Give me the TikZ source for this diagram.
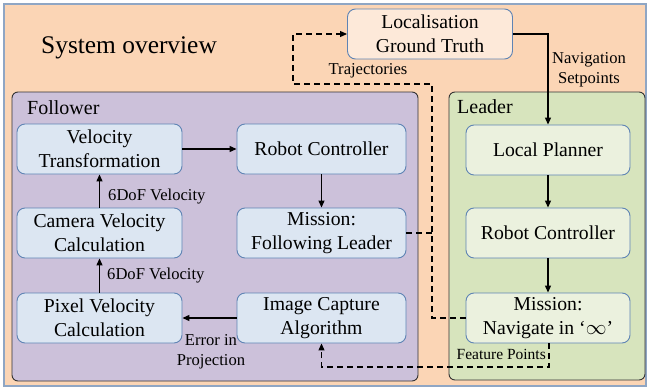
\documentclass[tikz,border=0pt]{standalone}
\usepackage{fontspec}
\setmainfont{Liberation Serif}
\usetikzlibrary{arrows.meta}

\definecolor{bgpeach}{HTML}{FBD5B5}
\definecolor{bgedge}{HTML}{8FA6C4}
\definecolor{follfill}{HTML}{CCC1DA}
\definecolor{leadfill}{HTML}{D7E4BD}
\definecolor{fboxfill}{HTML}{DCE6F2}
\definecolor{lboxfill}{HTML}{EBF1DE}
\definecolor{gtfill}{HTML}{FDE9D9}
\definecolor{boxedge}{HTML}{5F84B4}

\tikzset{
  blk/.style={draw=boxedge, line width=0.9pt, rounded corners=8pt,
    minimum width=165pt, minimum height=50pt, align=center,
    inner sep=0pt, font=\fontsize{19.7}{23.5}\selectfont},
  fblk/.style={blk, fill=fboxfill},
  lblk/.style={blk, fill=lboxfill},
  gblk/.style={blk, fill=gtfill},
  group/.style={draw=black!80, line width=0.9pt, rounded corners=6pt},
  lbl/.style={font=\fontsize{16.6}{19.5}\selectfont, align=center, inner sep=0pt},
  head/.style={font=\fontsize{20}{24}\selectfont, inner sep=0pt, anchor=west},
  arr/.style={line width=1.2pt, -{Triangle[length=7pt,width=6pt]}},
  darr/.style={line width=1.1pt, dash pattern=on 6pt off 4pt, -{Triangle[length=7pt,width=6pt]}},
  dline/.style={line width=1.1pt, dash pattern=on 6pt off 4pt},
}

\begin{document}
\begin{tikzpicture}[x=1pt, y=-1pt]
  \useasboundingbox (0,0) rectangle (649,391);

  % overall frame
  \draw[fill=bgpeach, draw=bgedge, line width=1.2pt] (4,4) rectangle (646,386);
  \node[anchor=west, inner sep=0pt, font=\fontsize{25.4}{30}\selectfont] (title) at (41,48) {System overview};

  % group panels
  \draw[group, fill=follfill] (12,92) rectangle (418,381);
  \draw[group, fill=leadfill] (449,92) rectangle (645,380);
  \node[head] (follhead) at (27,108) {Follower};
  \node[head] (leadhead) at (457,107) {Leader};

  % ground truth
  \node[gblk] (loc) at (430,34) {Localisation\\Ground Truth};

  % follower blocks
  \node[fblk] (vt)  at (99.5,149)  {Velocity\\Transformation};
  \node[fblk, minimum width=169pt] (rcf) at (321.5,149) {Robot Controller};
  \node[fblk] (cvc) at (99.5,233)  {Camera Velocity\\Calculation};
  \node[fblk, minimum width=169pt] (mfl) at (321.5,233) {Mission:\\Following Leader};
  \node[fblk] (pvc) at (99.5,318)  {Pixel Velocity\\Calculation};
  \node[fblk, minimum width=169pt] (ica) at (321.5,318) {Image Capture\\Algorithm};

  % leader blocks
  \node[lblk, minimum width=164pt] (lp)   at (548,150) {Local Planner};
  \node[lblk, minimum width=164pt] (rcl)  at (548,233) {Robot Controller};
  \node[lblk, minimum width=164pt] (mnav) at (548,318) {Mission:\\Navigate in `$\infty$'};

  % leader chain
  \draw[arr] (loc.east) -| (lp.north);
  \node[lbl] (navsp) at (589,70) {Navigation\\Setpoints};
  \draw[arr] (lp.south) -- (rcl.north);
  \draw[arr] (rcl.south) -- (mnav.north);

  % follower chain
  \draw[arr] (vt.east) -- (rcf.west);
  \draw[arr] (rcf.south) -- (mfl.north);
  \draw[arr] (ica.west) -- (pvc.east);
  \node[lbl] (errlbl) at (211,352) {Error in\\Projection};
  \draw[arr] (pvc.north) -- (cvc.south);
  \node[lbl, anchor=west] (dof1) at (107,276) {6DoF Velocity};
  \draw[arr] (cvc.north) -- (vt.south);
  \node[lbl, anchor=west] (dof2) at (108,197) {6DoF Velocity};

  % trajectories to ground truth
  \coordinate (trA) at (432,84);
  \coordinate (trB) at (293,84);
  \draw[darr] (mnav.west) -| (trA) -- (trB) |- (loc.west);
  \draw[dline] (mfl.east) -- (mfl.east -| trA);
  \node[lbl] (trajlbl) at (368,71) {Trajectories};

  % feature points
  \coordinate (fp) at (549,367);
  \draw[darr] (mnav.south -| fp) -- (fp) -| (ica.south);
  \node[lbl, anchor=east, font=\fontsize{15.5}{18}\selectfont] (fplbl) at (546,354) {Feature Points};
\end{tikzpicture}
\end{document}
